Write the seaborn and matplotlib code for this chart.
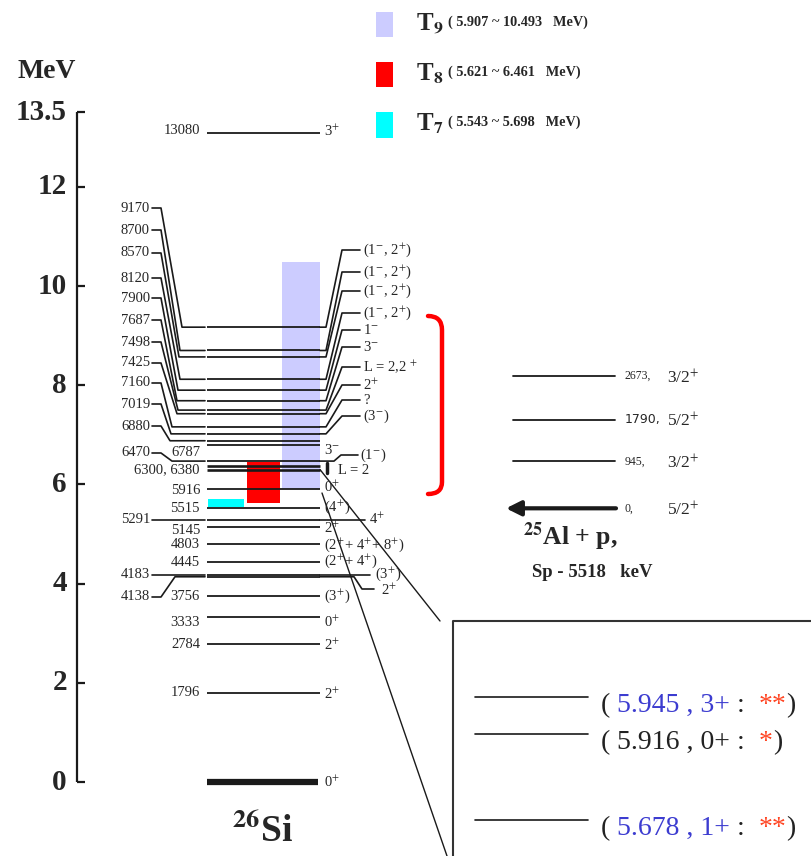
import matplotlib
matplotlib.use("Agg")
import matplotlib.pyplot as plt
import seaborn as sns
from matplotlib.path import Path
from matplotlib.patches import PathPatch

sns.set_theme(style="white")
plt.rcParams['font.family'] = ['Liberation Serif', 'DejaVu Serif']
plt.rcParams['mathtext.fontset'] = 'stix'

# ---------------- data ----------------
tick_values = [0, 2, 4, 6, 8, 10, 12, 13.5]
tick_labels = ["0", "2", "4", "6", "8", "10", "12", "13.5"]

# 26Si levels (MeV)
all_levels = [1.796, 2.784, 3.333, 3.756, 4.138, 4.183, 4.445, 4.803, 5.145, 5.291,
              5.515, 5.916, 6.300, 6.380, 6.470, 6.787, 6.880, 7.019, 7.160, 7.425,
              7.498, 7.687, 7.900, 8.120, 8.570, 8.700, 9.170, 13.080]
ground_level = 0.0

mid_names = ["13080", "6787", "6300, 6380", "5916", "5515", "5145", "4803", "4445",
             "3756", "3333", "2784", "1796"]

left_names = ["9170", "8700", "8570", "8120", "7900", "7687", "7498", "7425", "7160",
              "7019", "6880", "6470", "5291", "4183", "4138"]
left_energy = [9.170, 8.700, 8.570, 8.120, 7.900, 7.687, 7.498, 7.425, 7.160,
               7.019, 6.880, 6.470, 5.291, 4.183, 4.138]

top_spin_energy = [9.170, 8.700, 8.570, 8.120, 7.900, 7.687, 7.498, 7.425, 7.160, 7.019]
top_spins = ["(1$^{-}$, 2$^{+}$)", "(1$^{-}$, 2$^{+}$)", "(1$^{-}$, 2$^{+}$)",
             "(1$^{-}$, 2$^{+}$)", "1$^{-}$", "3$^{-}$", "L = 2,2 $^{+}$", "2$^{+}$",
             "?", "(3$^{-}$)"]

direct_energy = [13.080, 6.787, 5.916, 5.515, 5.145, 4.803, 4.445, 3.756, 3.333,
                 2.784, 1.796, 0.0]
direct_spins = ["3$^{+}$", "3$^{-}$", "0$^{+}$", "(4$^{+}$)", "2$^{+}$",
                "(2$^{+}$+ 4$^{+}$+ 8$^{+}$)", "(2$^{+}$+ 4$^{+}$)", "(3$^{+}$)",
                "0$^{+}$", "2$^{+}$", "2$^{+}$", "0$^{+}$"]

# resonance windows
t_names = ["T$_{\\mathbf{9}}$", "T$_{\\mathbf{8}}$", "T$_{\\mathbf{7}}$"]
t_lo = [5.907, 5.621, 5.543]
t_hi = [10.493, 6.461, 5.698]
t_ranges = ["( 5.907 ~ 10.493   MeV)", "( 5.621 ~ 6.461   MeV)", "( 5.543 ~ 5.698   MeV)"]
t_colors = ["#ccccff", "#ff0000", "#00ffff"]

# 25Al + p
sp_mev = 5.518
al_levels = [0.0, 0.945, 1.790, 2.673]
al_names = ["0,", "945,", "1790,", "2673,"]
al_spins = ["5/2$^{+}$", "3/2$^{+}$", "5/2$^{+}$", "3/2$^{+}$"]

# inset
inset_E = ["5.945", "5.916", "5.678"]
inset_J = ["3+", "0+", "1+"]
inset_stars = ["**", "*", "**"]
inset_col = ["#3c3cd0", "#222222", "#3c3cd0"]

# ---------------- layout helpers ----------------
Y0, PPM = 782.0, 49.6


def E(py):
    return (Y0 - py) / PPM


fig = plt.figure(figsize=(8.12, 8.56), dpi=100)
ax = fig.add_axes([0, 0, 1, 1])
ax.set_xlim(0, 812)
ax.set_ylim(E(856), E(0))
ax.axis('off')

FS = 10.5

# axis
ax.plot([77, 77], [0, 13.5], color='k', lw=1.6, solid_capstyle='butt')
ax.hlines(tick_values, 77, 85, color='k', lw=1.6)
for v, s in zip(tick_values, tick_labels):
    ax.text(67, v, s, ha='right', va='center', fontsize=21, fontweight='bold')
ax.text(47, E(72), "MeV", ha='center', va='center', fontsize=20, fontweight='bold')

# windows
bar_x = [(282, 320), (247, 280), (208, 244)]
for lo, hi, c, (x0, x1) in zip(t_lo, t_hi, t_colors, bar_x):
    ax.bar((x0 + x1) / 2, hi - lo, bottom=lo, width=x1 - x0, color=c,
           edgecolor='none', zorder=1)

# legend
leg_y = [(12, 37), (62, 87), (112, 138)]
leg_txt_y = [25, 75, 125]
for name, rng, c, (ya, yb), ty in zip(t_names, t_ranges, t_colors, leg_y, leg_txt_y):
    ax.bar(385, E(ya) - E(yb), bottom=E(yb), width=17, color=c, edgecolor='none')
    ax.text(416, E(ty - 1), name, ha='left', va='center', fontsize=18, fontweight='bold')
    ax.text(448, E(ty - 3), rng, ha='left', va='center', fontsize=10.3, fontweight='bold')

# levels
ax.hlines([l for l in all_levels if l not in (6.300, 6.380)], 207, 320,
          color='k', lw=1.3, zorder=3)
ax.hlines([6.300, 6.380], 207, 320, color='k', lw=1.9, zorder=3)
ax.hlines(ground_level, 207, 318, color='k', lw=4.5, zorder=3)

# middle labels
mid_px = [131, 452, 470, 490, 508, 530, 545, 562, 596, 623, 645, 693]
for name, py in zip(mid_names, mid_px):
    ax.text(200, E(py), name, ha='right', va='center', fontsize=FS)

# left labels + connectors
left_px = [208, 230, 253, 278, 298, 320, 342, 363, 383, 404, 426, 453, None, None, 597]
left_xb = [182, 180, 179, 180, 178, 177, 178, 177, 172, 171, 170, 172, 170, 170, 175]
for name, e, py, xb in zip(left_names, left_energy, left_px, left_xb):
    ly = e if py is None else E(py)
    ax.text(150, ly, name, ha='right', va='center', fontsize=FS)
    ax.plot([152, 161, xb, 205], [ly, ly, e, e], color='k', lw=1.2)

# right labels (upper group)
right_px = [250, 272, 291, 313, 330, 347, 367, 385, 400, 416]
for e, s, py in zip(top_spin_energy, top_spins, right_px):
    ax.plot([320, 326, 342, 360], [e, e, E(py), E(py)], color='k', lw=1.2)
    ax.text(363, E(py), s, ha='left', va='center', fontsize=FS)

# spins directly at level end
direct_px = [131, 450, 487, 507, 528, 545, 561, 596, 622, 645, 694, 782]
for e, s, py in zip(direct_energy, direct_spins, direct_px):
    ax.text(324, E(py), s, ha='left', va='center', fontsize=FS)

# spins with extended connectors
ax.plot([320, 334, 341, 358], [6.470, 6.470, E(455), E(455)], color='k', lw=1.2)
ax.text(360, E(455), "(1$^{-}$)", ha='left', va='center', fontsize=FS)
ax.plot([327, 327], [E(463), E(473)], color='k', lw=2.5)
ax.text(338, E(470), "L = 2", ha='left', va='center', fontsize=FS)
ax.plot([320, 365], [5.291, 5.291], color='k', lw=1.2)
ax.text(369, 5.291, "4$^{+}$", ha='left', va='center', fontsize=FS)
ax.plot([320, 370], [4.183, 4.183], color='k', lw=1.2)
ax.text(375, E(574), "(3$^{+}$)", ha='left', va='center', fontsize=FS)
ax.plot([320, 354, 362, 374], [4.138, 4.138, E(589), E(589)], color='k', lw=1.2)
ax.text(381, E(590), "2$^{+}$", ha='left', va='center', fontsize=FS)

# 26Si label
ax.text(232, E(842), "$^{\\mathbf{26}}$Si", ha='left', va='baseline', fontsize=27,
        fontweight='bold')

# red bracket
path = Path([(428, E(316)), (442, E(316)), (442, E(330)), (442, E(482)),
             (442, E(494)), (428, E(494))],
            [Path.MOVETO, Path.CURVE3, Path.CURVE3, Path.LINETO, Path.CURVE3, Path.CURVE3])
ax.add_patch(PathPatch(path, facecolor='none', edgecolor='#ff0000', lw=3.2,
                       capstyle='round'))

# 25Al + p levels
for e, n, s in zip(al_levels, al_names, al_spins):
    y = sp_mev + e
    if e == 0:
        ax.annotate("", xy=(506, y), xytext=(616, y),
                    arrowprops=dict(arrowstyle='-|>', lw=3, color='k',
                                    mutation_scale=22, shrinkA=0, shrinkB=0))
    else:
        ax.plot([513, 615], [y, y], color='k', lw=1.3)
    if n == "1790,":
        ax.text(625, y, n, ha='left', va='center', fontsize=9, family='DejaVu Sans')
    else:
        ax.text(625, y, n, ha='left', va='center', fontsize=8.5)
    ax.text(667, y - 0.04, s, ha='left', va='center', fontsize=12.5)

ax.text(523, E(545), "$^{\\mathbf{25}}$Al + p,", ha='left', va='baseline',
        fontsize=18.5, fontweight='bold')
ax.text(532, E(577), "Sp - 5518   keV", ha='left', va='baseline', fontsize=13.5,
        fontweight='bold')

# leader lines to inset
ax.plot([320, 440], [6.300, E(621)], color='k', lw=1.0)
ax.plot([322, 447], [E(493), E(856)], color='k', lw=1.0)

# inset box
ax.plot([453, 453, 815], [E(860), E(621), E(621)], color='#333333', lw=1.5)
inset_line_px = [697, 734, 820]
for py, ev, j, st, c in zip(inset_line_px, inset_E, inset_J, inset_stars, inset_col):
    ax.plot([475, 588], [E(py), E(py)], color='k', lw=1.2)
    pieces = [("( ", '#222222'), (f"{ev} , {j}", c), (" :  ", '#222222'),
              (st, '#ff4422'), (")", '#222222')]
    t = ax.text(601, E(py + 21), pieces[0][0], ha='left', va='bottom',
                fontsize=20, color=pieces[0][1])
    for s, col in pieces[1:]:
        t = ax.annotate(s, xy=(1, 0), xycoords=t, ha='left', va='bottom',
                        fontsize=20, color=col)

fig.savefig("out.png", dpi=100)
